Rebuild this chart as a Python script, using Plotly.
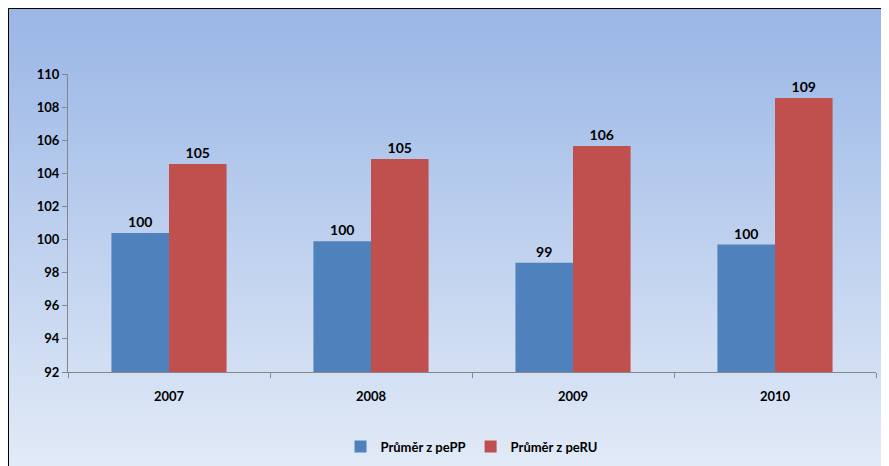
import plotly.graph_objects as go

years = ["2007", "2008", "2009", "2010"]
pepp = [100.4, 99.9, 98.6, 99.7]
peru = [104.56, 104.86, 105.65, 108.55]
pepp_labels = ["100", "100", "99", "100"]
peru_labels = ["105", "105", "106", "109"]

svg = ("data:image/svg+xml;utf8,<svg xmlns='http://www.w3.org/2000/svg' width='889' height='466'>"
       "<defs><linearGradient id='g' x1='0' y1='0' x2='0' y2='1'>"
       "<stop offset='0' stop-color='%2399b6e6'/><stop offset='1' stop-color='%23e3ebf7'/>"
       "</linearGradient></defs><rect width='889' height='466' fill='url(%23g)'/></svg>")

fig = go.Figure()
fig.add_bar(x=years, y=pepp, name="Průměr z pePP", marker_color="#4f81bd", marker_line_width=0,
            text=pepp_labels, textposition="outside", textfont=dict(size=14, color="black"),
            cliponaxis=False)
fig.add_bar(x=years, y=peru, name="Průměr z peRU", marker_color="#c0504d", marker_line_width=0,
            text=peru_labels, textposition="outside", textfont=dict(size=14, color="black"),
            cliponaxis=False)
fig.update_layout(
    width=889, height=466, barmode="group", bargap=0.43, bargroupgap=0,
    margin=dict(l=60, r=21, t=66, b=102, autoexpand=False),
    paper_bgcolor="rgba(0,0,0,0)", plot_bgcolor="rgba(0,0,0,0)",
    font=dict(family="Lato, Open Sans, sans-serif", size=13, color="black", weight="bold"),
    images=[dict(source=svg, xref="paper", yref="paper", x=-60/808, y=1+66/298,
                 sizex=889/808, sizey=466/298, sizing="stretch", layer="below",
                 xanchor="left", yanchor="top")],
    legend=dict(orientation="h", x=0.5, xanchor="center", y=-0.2, yanchor="top",
                font=dict(size=13)),
    shapes=[dict(type="rect", xref="paper", yref="paper", x0=-59.5/808, x1=1+19.5/808,
                 y0=-100.5/298, y1=1+65.5/298, line=dict(color="black", width=1))],
    showlegend=True,
)
fig.update_yaxes(range=[92, 110], dtick=2, showgrid=False, showline=True, linecolor="#868686",
                 ticks="outside", ticklen=5, tickcolor="#868686", zeroline=False)
fig.update_xaxes(showline=True, linecolor="#868686", ticks="outside", ticklen=5,
                 tickcolor="#868686", tickson="boundaries", ticklabelstandoff=12)
fig.write_html("out.html")
